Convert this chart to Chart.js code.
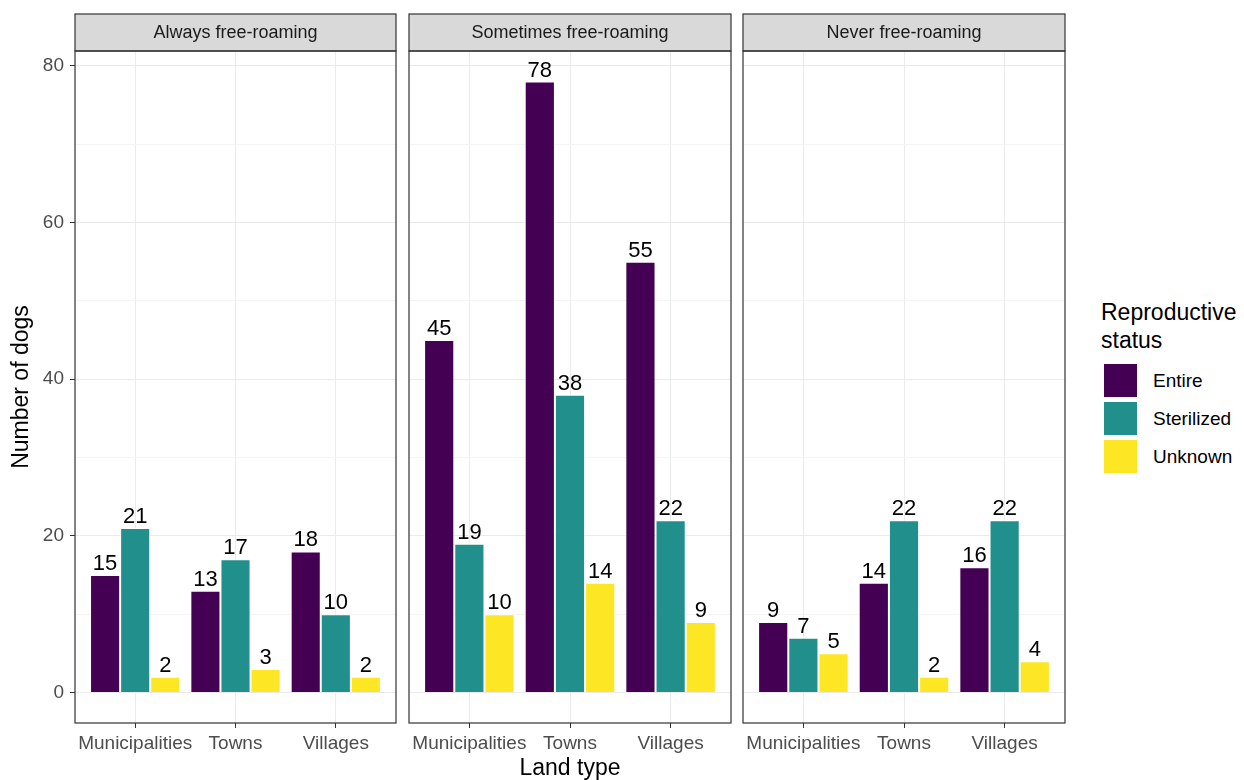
<!DOCTYPE html>
<html>
<head>
<meta charset="utf-8">
<title>Dogs by land type and roaming</title>
<script src="https://cdn.jsdelivr.net/npm/chart.js@4.4.1/dist/chart.umd.min.js"></script>
<style>
    body { margin: 0; background: #fff; }
    #wrap { position: relative; width: 1244px; height: 780px; font-family: "Liberation Sans", Arial, sans-serif; }
    #wrap canvas { position: absolute; top: 0; }
    .legend-title { position: absolute; left: 1101px; top: 298px; font-size: 23px; line-height: 28px; color: #000; }
    .legend-key { position: absolute; left: 1104px; width: 33px; height: 33px; }
    .legend-label { position: absolute; left: 1153px; font-size: 19px; line-height: 33px; color: #000; }
</style>
</head>
<body>
<div id="wrap">
    <canvas id="panel1" width="400" height="780" style="left:0px"></canvas>
    <canvas id="panel2" width="330" height="780" style="left:405px"></canvas>
    <canvas id="panel3" width="330" height="780" style="left:739px"></canvas>

    <div class="legend-title">Reproductive<br>status</div>
    <div class="legend-key" style="top:364px;background:#440154"></div>
    <div class="legend-label" style="top:364px">Entire</div>
    <div class="legend-key" style="top:402px;background:#21908C"></div>
    <div class="legend-label" style="top:402px">Sterilized</div>
    <div class="legend-key" style="top:440px;background:#FDE725"></div>
    <div class="legend-label" style="top:440px">Unknown</div>
</div>
<script>
// Data
const landTypes = ['Municipalities', 'Towns', 'Villages'];
const statuses = ['Entire', 'Sterilized', 'Unknown'];
const statusColors = ['#440154', '#21908C', '#FDE725'];
const yTicks = [0, 10, 20, 30, 40, 50, 60, 70, 80];

const alwaysEntire = [15, 13, 18];
const alwaysSterilized = [21, 17, 10];
const alwaysUnknown = [2, 3, 2];

const sometimesEntire = [45, 78, 55];
const sometimesSterilized = [19, 38, 22];
const sometimesUnknown = [10, 14, 9];

const neverEntire = [9, 14, 16];
const neverSterilized = [7, 22, 22];
const neverUnknown = [5, 2, 4];

Chart.defaults.font.family = '"Liberation Sans", Arial, sans-serif';
Chart.defaults.color = '#4D4D4D';

// Strip header, panel border and value labels (ggplot facet look)
const facetPlugin = {
    id: 'facet',
    afterDatasetsDraw(chart) {
        const ctx = chart.ctx;
        ctx.save();
        ctx.font = '22px "Liberation Sans", Arial, sans-serif';
        ctx.fillStyle = '#000';
        ctx.textAlign = 'center';
        ctx.textBaseline = 'alphabetic';
        chart.data.datasets.forEach((ds, i) => {
            chart.getDatasetMeta(i).data.forEach((bar, j) => {
                ctx.fillText(String(ds.data[j].y), bar.x, bar.y - 5);
            });
        });
        ctx.restore();
    },
    afterDraw(chart, args, opts) {
        const ctx = chart.ctx;
        const a = chart.chartArea;
        ctx.save();
        // strip
        ctx.fillStyle = '#D9D9D9';
        ctx.fillRect(a.left, 14, a.right - a.left, a.top - 14);
        ctx.strokeStyle = '#333333';
        ctx.lineWidth = 1.2;
        ctx.strokeRect(a.left, 14, a.right - a.left, a.top - 14);
        ctx.fillStyle = '#1A1A1A';
        ctx.font = '18px "Liberation Sans", Arial, sans-serif';
        ctx.textAlign = 'center';
        ctx.textBaseline = 'middle';
        ctx.fillText(opts.title, (a.left + a.right) / 2, (14 + a.top) / 2 + 1);
        // panel border
        ctx.strokeRect(a.left, a.top, a.right - a.left, a.bottom - a.top);
        ctx.restore();
    }
};

function makeDatasets(entire, sterilized, unknown) {
    return [entire, sterilized, unknown].map((vals, i) => ({
        label: statuses[i],
        data: vals.map((v, j) => ({ x: j + 1, y: v })),
        backgroundColor: statusColors[i],
        borderColor: 'rgba(255,255,255,0.8)',
        borderWidth: 1,
        categoryPercentage: 0.9,
        barPercentage: 1.0
    }));
}

function makePanel(id, title, datasets, first, showXTitle, padLeft, padRight) {
    return new Chart(document.getElementById(id), {
        type: 'bar',
        data: { datasets: datasets },
        options: {
            responsive: false,
            animation: false,
            devicePixelRatio: 1,
            layout: { padding: { top: 51, bottom: 0, left: padLeft, right: padRight } },
            plugins: {
                legend: { display: false },
                tooltip: { enabled: false },
                facet: { title: title }
            },
            scales: {
                x: {
                    type: 'linear',
                    min: 0.4,
                    max: 3.6,
                    offset: false,
                    afterBuildTicks: (scale) => { scale.ticks = landTypes.map((_, i) => ({ value: i + 1 })); },
                    afterFit: (scale) => { scale.height = 57; },
                    ticks: {
                        autoSkip: false,
                        maxRotation: 0,
                        padding: 4,
                        color: '#4D4D4D',
                        font: { size: 19 },
                        callback: (v) => landTypes[Math.round(v) - 1] || ''
                    },
                    grid: { offset: false, color: '#EBEBEB', tickColor: '#333333', tickLength: 5, lineWidth: 1 },
                    border: { display: false },
                    title: {
                        display: showXTitle,
                        text: 'Land type',
                        color: '#000',
                        font: { size: 23, lineHeight: 1 },
                        padding: { top: 0, bottom: 0 }
                    }
                },
                y: {
                    min: -3.9,
                    max: 81.9,
                    afterBuildTicks: (scale) => { scale.ticks = yTicks.map(v => ({ value: v })); },
                    afterFit: (scale) => { scale.width = first ? 75 : 0; },
                    ticks: {
                        display: first,
                        padding: 6,
                        color: '#4D4D4D',
                        font: { size: 19 },
                        callback: (v) => (v % 20 === 0 ? String(v) : '')
                    },
                    grid: {
                        drawTicks: first,
                        tickLength: 5,
                        lineWidth: 1,
                        color: (c) => (c.tick && c.tick.value % 20 === 0 ? '#EBEBEB' : '#F4F4F4'),
                        tickColor: (c) => (c.tick && c.tick.value % 20 === 0 ? '#333333' : 'rgba(0,0,0,0)')
                    },
                    border: { display: false },
                    title: {
                        display: first,
                        text: 'Number of dogs',
                        color: '#000',
                        font: { size: 23, lineHeight: 1 },
                        padding: { top: 10, bottom: 0 }
                    }
                }
            }
        },
        plugins: [facetPlugin]
    });
}

makePanel('panel1', 'Always free-roaming',
    makeDatasets(alwaysEntire, alwaysSterilized, alwaysUnknown), true, false, 0, 4);
makePanel('panel2', 'Sometimes free-roaming',
    makeDatasets(sometimesEntire, sometimesSterilized, sometimesUnknown), false, true, 4, 4);
makePanel('panel3', 'Never free-roaming',
    makeDatasets(neverEntire, neverSterilized, neverUnknown), false, false, 4, 4);
</script>
</body>
</html>
